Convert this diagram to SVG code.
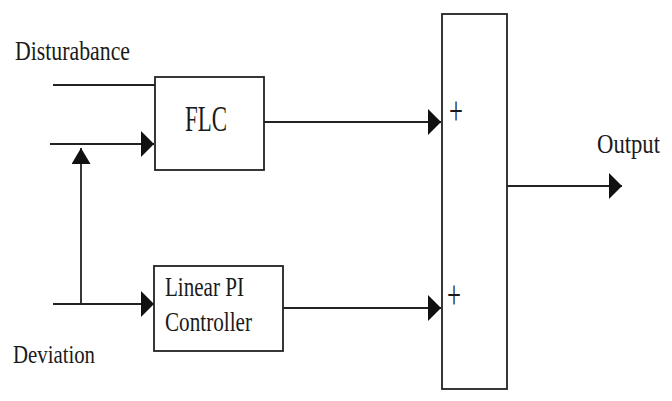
<svg xmlns="http://www.w3.org/2000/svg" width="672" height="401" viewBox="0 0 672 401">
<style>
.box{fill:#fff;stroke:#222;stroke-width:1.8}
.ln{fill:none;stroke:#222;stroke-width:1.8}
.t{font-family:"Liberation Serif","Times New Roman",serif;fill:#1a1a1a}
</style>
<defs>
<marker id="ah" markerUnits="userSpaceOnUse" markerWidth="13" markerHeight="26" refX="13" refY="13" orient="auto" viewBox="0 0 13 26">
<path d="M0,0 L13,13 L0,26 z" fill="#111"/>
</marker>
<marker id="ahUp" markerUnits="userSpaceOnUse" markerWidth="16" markerHeight="19" refX="16" refY="9.5" orient="auto" viewBox="0 0 16 19">
<path d="M0,0 L16,9.5 L0,19 z" fill="#111"/>
</marker>
</defs>
<rect width="672" height="401" fill="#fff"/>
<g id="connectors">
<line class="ln" x1="53" y1="85" x2="156" y2="85"/>
<line class="ln" x1="50" y1="144" x2="154" y2="144" marker-end="url(#ah)"/>
<line class="ln" x1="81" y1="304" x2="81" y2="148" marker-end="url(#ahUp)"/>
<line class="ln" x1="53" y1="304" x2="154" y2="304" marker-end="url(#ah)"/>
<line class="ln" x1="264" y1="122" x2="441" y2="122" marker-end="url(#ah)"/>
<line class="ln" x1="283" y1="308" x2="441" y2="308" marker-end="url(#ah)"/>
<line class="ln" x1="507" y1="186" x2="622" y2="186" marker-end="url(#ah)"/>
</g>
<g id="disturbance">
<text class="t" x="15" y="60" font-size="28" textLength="115" lengthAdjust="spacingAndGlyphs">Disturabance</text>
</g>
<g id="deviation">
<text class="t" x="13" y="363" font-size="25" textLength="82" lengthAdjust="spacingAndGlyphs">Deviation</text>
</g>
<g id="flc">
<rect class="box" x="155" y="77" width="109" height="93"/>
<text class="t" x="185" y="131" font-size="35" textLength="42" lengthAdjust="spacingAndGlyphs">FLC</text>
</g>
<g id="linear-pi">
<rect class="box" x="154" y="266" width="129" height="85"/>
<text class="t" x="165" y="296" font-size="27" textLength="79" lengthAdjust="spacingAndGlyphs">Linear PI</text>
<text class="t" x="165" y="331" font-size="27" textLength="87" lengthAdjust="spacingAndGlyphs">Controller</text>
</g>
<g id="summer">
<rect class="box" x="442" y="14" width="65" height="375"/>
<text class="t" x="449" y="124" font-size="40" textLength="14" lengthAdjust="spacingAndGlyphs">+</text>
<text class="t" x="447" y="308" font-size="40" textLength="14" lengthAdjust="spacingAndGlyphs">+</text>
</g>
<g id="output">
<text class="t" x="597" y="153" font-size="27" textLength="63" lengthAdjust="spacingAndGlyphs">Output</text>
</g>
</svg>
